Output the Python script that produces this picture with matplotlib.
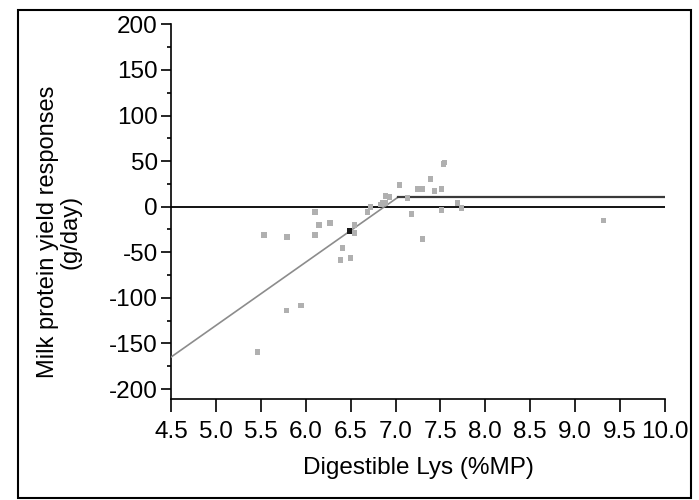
import matplotlib
matplotlib.use("Agg")
import matplotlib.pyplot as plt
from matplotlib.patches import Rectangle
from matplotlib.ticker import FixedLocator

plt.rcParams['font.family'] = ['Liberation Sans', 'DejaVu Sans']

# Observed responses (grey squares)
lys = [7.544, 7.532, 7.387, 7.041, 7.242, 7.298, 7.432, 7.510, 6.885, 6.930,
       7.131, 6.852, 6.885, 6.718, 6.837, 7.690, 7.735, 6.104, 6.684, 7.175,
       7.510, 6.148, 6.271, 6.539, 6.539, 5.535, 5.791, 6.104, 7.298, 6.405,
       6.383, 6.495, 5.788, 5.948, 5.464, 9.315]
resp = [48.3, 46.9, 30.4, 23.8, 19.4, 19.4, 17.2, 19.4, 11.7, 10.6,
        9.6, 4.1, 4.1, -0.3, 2.2, 4.1, -1.4, -5.8, -5.8, -8.0,
        -3.6, -20.0, -17.8, -20.0, -28.9, -31.0, -33.2, -31.0, -35.4, -45.3,
        -58.5, -56.3, -113.9, -108.8, -159.5, -15.4]
# Highlighted point
hl_lys = [6.484]
hl_resp = [-26.7]

# Broken-line fit
fit_rise_x = [4.5, 7.03]
fit_rise_y = [-165.0, 10.6]
fit_plat_x = [7.03, 10.0]
fit_plat_y = [10.6, 10.6]
zero_x = [4.5, 10.0]
zero_y = [0, 0]

xticks = [4.5, 5.0, 5.5, 6.0, 6.5, 7.0, 7.5, 8.0, 8.5, 9.0, 9.5, 10.0]
xticklabels = ["4.5", "5.0", "5.5", "6.0", "6.5", "7.0", "7.5", "8.0", "8.5", "9.0", "9.5", "10.0"]
yticks = [-200, -150, -100, -50, 0, 50, 100, 150, 200]
yticklabels = ["-200", "-150", "-100", "-50", "0", "50", "100", "150", "200"]
yminor = [-175, -125, -75, -25, 25, 75, 125, 175]

W, H = 699, 500
fig = plt.figure(figsize=(W/100, H/100), dpi=100)
ax = fig.add_axes([171/W, 1-399.3/H, (665-171)/W, (399.3-24.4)/H])

ax.plot(zero_x, zero_y, color='black', lw=1.3, zorder=2)
ax.plot(fit_rise_x, fit_rise_y, color='#8c8c8c', lw=1.2, zorder=3)
ax.plot(fit_plat_x, fit_plat_y, color='#3a3a3a', lw=1.6, zorder=3)
ax.scatter(lys, resp, marker='s', s=14, color='#b0b0b0', edgecolors='none', zorder=4)
ax.scatter(hl_lys, hl_resp, marker='s', s=14, color='#1a1a1a', edgecolors='none', zorder=5)

ax.set_xlim(4.5, 10.0)
ax.set_ylim(-211.3, 200)
ax.spines['top'].set_visible(False)
ax.spines['right'].set_visible(False)
ax.spines['left'].set_linewidth(1.2)
ax.spines['bottom'].set_linewidth(1.2)

ax.set_xticks(xticks)
ax.set_xticklabels(xticklabels)
ax.set_yticks(yticks)
ax.set_yticklabels(yticklabels)
ax.yaxis.set_minor_locator(FixedLocator(yminor))
ax.tick_params(axis='x', which='major', direction='out', length=9.3, width=1.2, pad=6.5, labelsize=17.5)
ax.tick_params(axis='y', which='major', direction='out', length=7.5, width=1.2, pad=2, labelsize=17.5)
ax.tick_params(axis='y', which='minor', direction='out', length=3, width=1.2)

ax.set_xlabel("Digestible Lys (%MP)", fontsize=17.5, labelpad=10)
fig.text(59/W, 1-232/H, "Milk protein yield responses\n(g/day)", rotation=90,
         ha='center', va='center', fontsize=17, linespacing=1.05)

fig.patches.append(Rectangle((18/W, 1-498/H), (691-18)/W, (498-10)/H,
                             transform=fig.transFigure, fill=False, edgecolor='black', lw=1.5))

fig.savefig("out.png", dpi=100)
